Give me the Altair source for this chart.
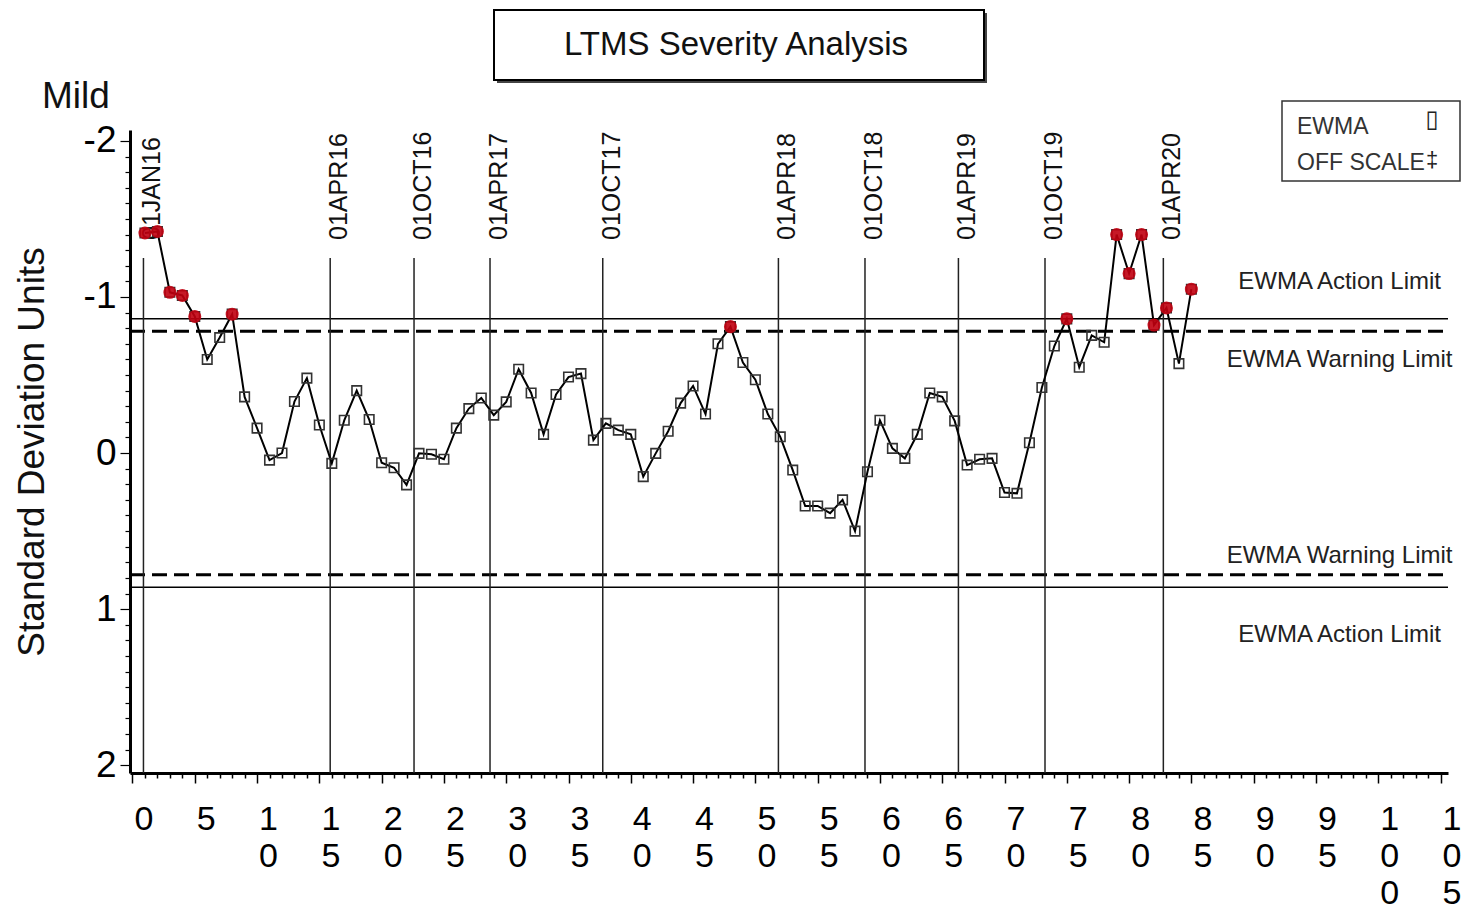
import altair as alt
import pandas as pd

# ---------------- data ----------------
test_index = list(range(1, 86))
sdu = [
    -1.41, -1.42, -1.03, -1.01, -0.875, -0.60, -0.74, -0.89, -0.36, -0.16,
    0.045, 0.00, -0.33, -0.48, -0.18, 0.066, -0.21, -0.40, -0.215, 0.062,
    0.094, 0.204, 0.002, 0.008, 0.04, -0.16, -0.285, -0.353, -0.243, -0.328,
    -0.537, -0.385, -0.12, -0.375, -0.487, -0.509, -0.083, -0.19, -0.147, -0.12,
    0.151, 0.002, -0.14, -0.32, -0.43, -0.25, -0.70, -0.81, -0.58, -0.47,
    -0.25, -0.104, 0.109, 0.339, 0.339, 0.385, 0.30, 0.50, 0.12, -0.21,
    -0.03, 0.034, -0.12, -0.385, -0.36, -0.206, 0.077, 0.04, 0.034, 0.253,
    0.258, -0.066, -0.42, -0.686, -0.86, -0.55, -0.754, -0.71, -1.40, -1.15,
    -1.40, -0.82, -0.93, -0.573, -1.05,
]

warning_limit = 0.78
action_limit = 0.86

ref_dates = ["01JAN16", "01APR16", "01OCT16", "01APR17", "01OCT17",
             "01APR18", "01OCT18", "01APR19", "01OCT19", "01APR20"]
ref_pos = [0.88, 15.87, 22.6, 28.7, 37.75, 51.85, 58.8, 66.3, 73.25, 82.75]

limit_labels = ["EWMA Action Limit", "EWMA Warning Limit",
                "EWMA Warning Limit", "EWMA Action Limit"]
limit_label_y = [-1.096, -0.596, 0.66, 1.167]
limit_label_x = 96.9

x_ticks = list(range(0, 106))
y_ticks = [round(-2 + 0.1 * i, 1) for i in range(41)]

chart_title = "LTMS Severity Analysis"
y_title = "Standard Deviation Units"
legend_items = ["EWMA", "OFF SCALE"]
legend_symbols = ["\u25AF", "\u2021"]

# ---------------- layout ----------------
W, H = 1318, 643
FONT = "Liberation Sans"

xscale = alt.Scale(domain=[-0.2, 105.6], nice=False, zero=False)
yscale = alt.Scale(domain=[-2.07, 2.05], reverse=True, nice=False, zero=False)

xaxis = alt.Axis(
    values=x_ticks,
    title=None,
    grid=False,
    labelExpr="datum.value % 5 === 0 ? split(toString(datum.value), '') : ''",
    labelFontSize=34,
    labelColor="black",
    labelLineHeight=37,
    labelOffset=11,
    labelPadding=19,
    labelOverlap=False,
    labelFlush=False,
    tickSize={"condition": {"test": "datum.value % 5 === 0", "value": 10}, "value": 5},
    tickColor="black",
    tickWidth=1.5,
    domainColor="black",
    domainWidth=3,
)

yaxis = alt.Axis(
    values=y_ticks,
    title=y_title,
    titleFontSize=37,
    titleFontWeight="normal",
    titleColor="#111",
    titlePadding=32,
    grid=False,
    labelExpr="abs(datum.value - round(datum.value)) < 0.001 ? toString(round(datum.value)) : ''",
    labelFontSize=37,
    labelColor="black",
    labelPadding=4,
    labelOverlap=False,
    labelFlush=False,
    tickSize={"condition": {"test": "abs(datum.value - round(datum.value)) < 0.001", "value": 10}, "value": 5},
    tickColor="black",
    tickWidth=1.2,
    domainColor="black",
    domainWidth=3,
)


def X(field="x"):
    return alt.X(f"{field}:Q", scale=xscale, axis=xaxis)


def Y(field="y"):
    return alt.Y(f"{field}:Q", scale=yscale, axis=yaxis)


df_pts = pd.DataFrame({"x": test_index, "y": sdu})
df_ref = pd.DataFrame({"x": ref_pos, "label": ref_dates})
df_act = pd.DataFrame({"y": [-action_limit, action_limit]})
df_warn = pd.DataFrame({"y": [-warning_limit, warning_limit]})
df_limlab = pd.DataFrame({"x": [limit_label_x] * 4, "y": limit_label_y, "label": limit_labels})

# limit lines
action_lines = alt.Chart(df_act).mark_rule(color="black", strokeWidth=1.5).encode(
    y=Y(), x=alt.value(0), x2=alt.value(W)
)
warn_lines = alt.Chart(df_warn).mark_rule(color="black", strokeWidth=3, strokeDash=[15, 7]).encode(
    y=Y(), x=alt.value(0), x2=alt.value(W)
)
limit_text = alt.Chart(df_limlab).mark_text(
    fontSize=24, color="#222", align="center", baseline="middle"
).encode(x=X(), y=Y(), text="label:N")

# date reference lines
ref_lines = alt.Chart(df_ref).mark_rule(color="#222", strokeWidth=1.5).encode(
    x=X(), y=alt.value(128), y2=alt.value(H)
)
ref_text = alt.Chart(df_ref).mark_text(
    angle=270, align="left", baseline="middle", dy=9, fontSize=25, color="#111"
).encode(x=X(), y=alt.value(110), text="label:N")

# data
line = alt.Chart(df_pts).mark_line(color="black", strokeWidth=2).encode(x=X(), y=Y())
squares = alt.Chart(df_pts).mark_point(
    shape="square", size=90, filled=False, color="#333", strokeWidth=1.6, opacity=1
).encode(x=X(), y=Y())
red = alt.Chart(df_pts).transform_filter(
    f"datum.y <= {-warning_limit}"
).mark_circle(size=170, color="#c00010", opacity=0.9).encode(x=X(), y=Y())

# decorations: title box, "Mild", legend box
deco = pd.DataFrame({"t": [chart_title]})
title_shadow = alt.Chart(deco).mark_rect(fill="#444").encode(
    x=alt.value(367), x2=alt.value(857), y=alt.value(-117), y2=alt.value(-47)
)
title_box = alt.Chart(deco).mark_rect(fill="white", stroke="black", strokeWidth=2).encode(
    x=alt.value(364), x2=alt.value(854), y=alt.value(-120), y2=alt.value(-50)
)
title_text = alt.Chart(deco).mark_text(fontSize=33, color="#111", align="center", baseline="middle").encode(
    x=alt.value(606), y=alt.value(-85), text="t:N"
)
mild = alt.Chart(pd.DataFrame({"t": ["Mild"]})).mark_text(
    fontSize=37, color="#111", align="left", baseline="middle"
).encode(x=alt.value(-88), y=alt.value(-33), text="t:N")

leg_box = alt.Chart(deco).mark_rect(fill="white", stroke="#333", strokeWidth=1.5).encode(
    x=alt.value(1152), x2=alt.value(1330), y=alt.value(-29), y2=alt.value(51)
)
leg_df = pd.DataFrame({"t": legend_items, "s": legend_symbols, "row": [0, 1]})
leg_text1 = alt.Chart(leg_df).transform_filter("datum.row == 0").mark_text(
    fontSize=23, color="#333", align="left", baseline="middle"
).encode(x=alt.value(1167), y=alt.value(-3), text="t:N")
leg_text2 = alt.Chart(leg_df).transform_filter("datum.row == 1").mark_text(
    fontSize=23, color="#333", align="left", baseline="middle"
).encode(x=alt.value(1167), y=alt.value(33), text="t:N")
leg_sym1 = alt.Chart(leg_df).transform_filter("datum.row == 0").mark_text(
    fontSize=24, color="#222", align="center", baseline="middle", font="DejaVu Sans"
).encode(x=alt.value(1302), y=alt.value(-10), text="s:N")
leg_sym2 = alt.Chart(leg_df).transform_filter("datum.row == 1").mark_text(
    fontSize=22, color="#222", align="center", baseline="middle"
).encode(x=alt.value(1302), y=alt.value(30), text="s:N")

chart = alt.layer(
    action_lines, warn_lines, ref_lines, ref_text, limit_text,
    line, squares, red,
    title_shadow, title_box, title_text, mild,
    leg_box, leg_text1, leg_text2, leg_sym1, leg_sym2,
).properties(
    width=W,
    height=H,
    autosize=alt.AutoSizeParams(type="none"),
    padding={"left": 122, "top": 122, "right": 14, "bottom": 143},
    background="white",
    view=alt.ViewBackground(stroke="transparent", strokeWidth=0, strokeOpacity=0),
).configure_view(stroke="transparent", strokeWidth=0, strokeOpacity=0).configure(font=FONT)

chart.save("out.html", embed_options={"renderer": "svg", "actions": False})
